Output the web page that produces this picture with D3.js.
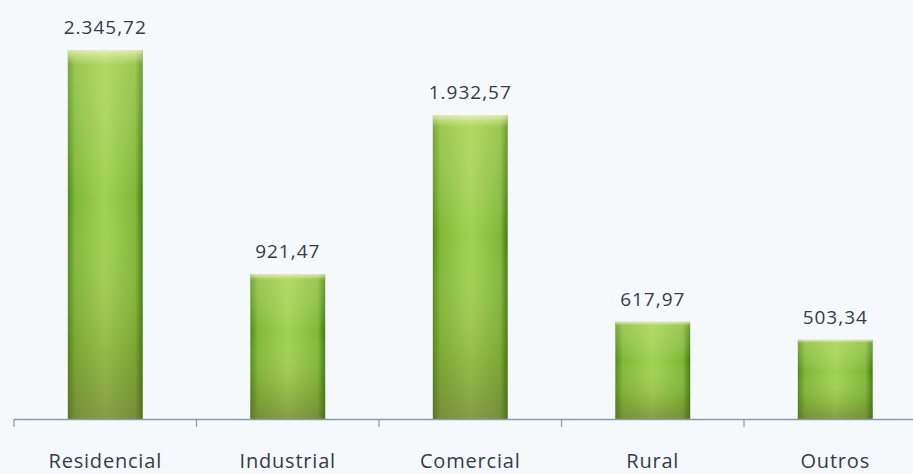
<!DOCTYPE html>
<html>
<head>
<meta charset="utf-8">
<script src="https://cdn.jsdelivr.net/npm/d3@7"></script>
<style>
  body { margin: 0; background: #f5f9fc; }
  svg { display: block; font-family: "Open Sans", "Noto Sans", sans-serif; }
</style>
</head>
<body>
<div id="chart"></div>
<script>
// Chart data
const categories = ['Residencial', 'Industrial', 'Comercial', 'Rural', 'Outros']
const values = [2345.72, 921.47, 1932.57, 617.97, 503.34]
const valueLabels = ['2.345,72', '921,47', '1.932,57', '617,97', '503,34']

const width = 913
const height = 474
const baseline = 419

const svg = d3.select('#chart')
  .append('svg')
  .attr('width', width)
  .attr('height', height)

svg.append('rect')
  .attr('width', width)
  .attr('height', height)
  .attr('fill', '#f5f9fc')

// Gradients for the bars
const defs = svg.append('defs')
const side = defs.append('linearGradient').attr('id', 'side')
  .attr('x1', 0).attr('x2', 1).attr('y1', 0).attr('y2', 0)
side.append('stop').attr('offset', '0%').attr('stop-color', '#4f8a14')
side.append('stop').attr('offset', '10%').attr('stop-color', '#80b836')
side.append('stop').attr('offset', '50%').attr('stop-color', '#a0d250')
side.append('stop').attr('offset', '90%').attr('stop-color', '#80b836')
side.append('stop').attr('offset', '100%').attr('stop-color', '#3f7a0c')

const shade = defs.append('linearGradient').attr('id', 'shade')
  .attr('x1', 0).attr('x2', 0).attr('y1', 0).attr('y2', 1)
shade.append('stop').attr('offset', '0%').attr('stop-color', '#f4f7c0').attr('stop-opacity', 0.85)
shade.append('stop').attr('offset', '4%').attr('stop-color', '#d8ec90').attr('stop-opacity', 0.3)
shade.append('stop').attr('offset', '40%').attr('stop-color', '#ffffff').attr('stop-opacity', 0)
shade.append('stop').attr('offset', '80%').attr('stop-color', '#6a6a30').attr('stop-opacity', 0.2)
shade.append('stop').attr('offset', '100%').attr('stop-color', '#6a5a40').attr('stop-opacity', 0.45)

// Scales
const x = d3.scaleBand()
  .domain(categories)
  .range([14, 14 + 5 * 182.5])
  .paddingInner(0.59)
  .paddingOuter(0.295)

const y = d3.scaleLinear()
  .domain([0, d3.max(values)])
  .range([baseline, 50])

const data = categories.map((c, i) => ({ cat: c, value: values[i], label: valueLabels[i] }))

// Bars
const bar = svg.selectAll('g.bar')
  .data(data)
  .enter().append('g')
  .attr('class', 'bar')

bar.append('rect')
  .attr('x', d => x(d.cat))
  .attr('y', d => y(d.value))
  .attr('width', x.bandwidth())
  .attr('height', d => baseline - y(d.value))
  .attr('fill', 'url(#side)')

bar.append('rect')
  .attr('x', d => x(d.cat))
  .attr('y', d => y(d.value))
  .attr('width', x.bandwidth())
  .attr('height', d => baseline - y(d.value))
  .attr('fill', 'url(#shade)')

// Value labels
bar.append('text')
  .attr('x', d => x(d.cat) + x.bandwidth() / 2)
  .attr('y', d => y(d.value) - 16)
  .attr('text-anchor', 'middle')
  .attr('font-size', 19)
  .attr('letter-spacing', 1)
  .attr('fill', '#353c48')
  .text(d => d.label)

// Axis
const axisX = d3.scalePoint()
  .domain(d3.range(6))
  .range([14, 14 + 5 * 182.5])

svg.append('line')
  .attr('x1', 14).attr('x2', width)
  .attr('y1', baseline + 0.5).attr('y2', baseline + 0.5)
  .attr('stroke', '#8a9ab0')
  .attr('stroke-width', 1.5)

svg.selectAll('line.tick')
  .data(axisX.domain())
  .enter().append('line')
  .attr('class', 'tick')
  .attr('x1', d => axisX(d)).attr('x2', d => axisX(d))
  .attr('y1', baseline).attr('y2', baseline + 8)
  .attr('stroke', '#8a9ab0')
  .attr('stroke-width', 1.2)

svg.selectAll('text.cat')
  .data(categories)
  .enter().append('text')
  .attr('class', 'cat')
  .attr('x', d => x(d) + x.bandwidth() / 2)
  .attr('y', 468)
  .attr('text-anchor', 'middle')
  .attr('font-size', 20)
  .attr('letter-spacing', 0.8)
  .attr('fill', '#353c48')
  .text(d => d)
</script>
</body>
</html>
